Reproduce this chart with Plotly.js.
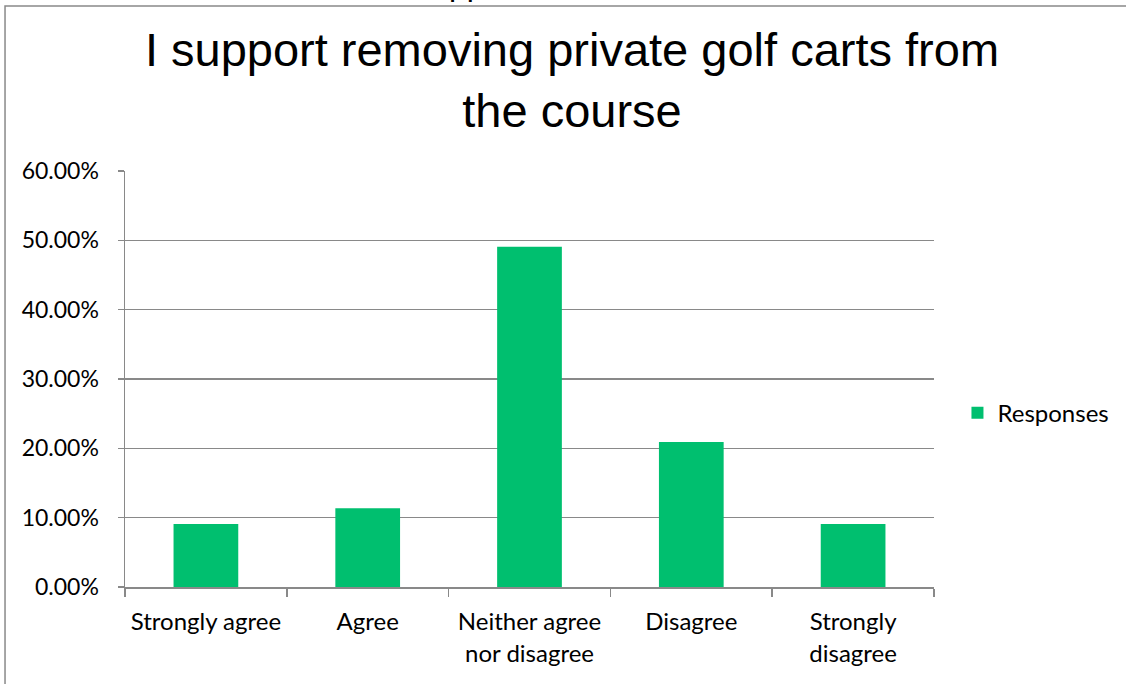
<!DOCTYPE html>
<html>
<head>
<meta charset="utf-8">
<script src="https://cdn.plot.ly/plotly-3.0.1.min.js"></script>
<style>
html,body{margin:0;padding:0;background:#fff;}
#chart{width:1126px;height:684px;}
</style>
</head>
<body>
<div id="chart"></div>
<script>
const categories = ["Strongly agree", "Agree", "Neither agree nor disagree", "Disagree", "Strongly disagree"];
const tickLabels = ["Strongly agree", "Agree", "Neither agree<br>nor disagree", "Disagree", "Strongly<br>disagree"];
const responses = [0.0909, 0.1136, 0.4909, 0.2091, 0.0909];
const seriesName = "Responses";
const titleText = "I support removing private golf carts from<br>the course";

const gray = "#898989";
const fam = "Lato, 'Open Sans', sans-serif";

const trace = {
  type: "bar",
  x: categories,
  y: responses,
  name: seriesName,
  marker: {color: "#00BF6F", line: {width: 0}},
  showlegend: true,
  hoverinfo: "none"
};

const layout = {
  width: 1126,
  height: 684,
  paper_bgcolor: "#fff",
  plot_bgcolor: "#fff",
  margin: {l: 125, r: 192, t: 171, b: 97, autoexpand: false},
  bargap: 0.6,
  title: {
    text: titleText,
    font: {family: "'Liberation Sans', Arial, sans-serif", size: 47, color: "#000"},
    xref: "paper", x: 0.5525, xanchor: "center",
    yref: "container", y: 0.903, yanchor: "top"
  },
  xaxis: {
    type: "category",
    tickvals: categories,
    ticktext: tickLabels,
    tickangle: 0,
    showline: true, linecolor: gray, linewidth: 1.5,
    ticks: "outside", tickson: "boundaries", ticklen: 8, tickcolor: gray, tickwidth: 1.5,
    showgrid: false,
    tickfont: {family: fam, size: 24, color: "#000"},
    ticklabelstandoff: 13,
    fixedrange: true
  },
  yaxis: {
    range: [0, 0.6],
    dtick: 0.1,
    tick0: 0,
    tickformat: ".2%",
    showline: true, linecolor: gray, linewidth: 1.5,
    ticks: "outside", ticklen: 6, tickcolor: gray, tickwidth: 1.5,
    showgrid: true, gridcolor: gray, gridwidth: 1.5,
    zeroline: false,
    tickfont: {family: fam, size: 23, color: "#000"},
    ticklabelstandoff: 14,
    fixedrange: true
  },
  legend: {
    x: 1.029, xanchor: "left",
    y: 0.418, yanchor: "middle",
    font: {family: fam, size: 24, color: "#000"},
    bgcolor: "rgba(0,0,0,0)"
  },
  shapes: [{
    type: "rect", xref: "paper", yref: "paper",
    x0: -0.1483, x1: 1.4, y0: -0.4, y1: 1.3966,
    line: {color: gray, width: 1.5}, fillcolor: "rgba(0,0,0,0)", layer: "below"
  }],
  annotations: [{
    text: "pp",
    xref: "paper", yref: "paper",
    x: (447 - 125) / 809, xanchor: "left",
    y: 1.4014, yanchor: "bottom",
    showarrow: false,
    font: {family: "'Liberation Sans', Arial, sans-serif", size: 32, color: "#000"}
  }]
};

Plotly.newPlot("chart", [trace], layout, {displayModeBar: false, staticPlot: true});
</script>
</body>
</html>
